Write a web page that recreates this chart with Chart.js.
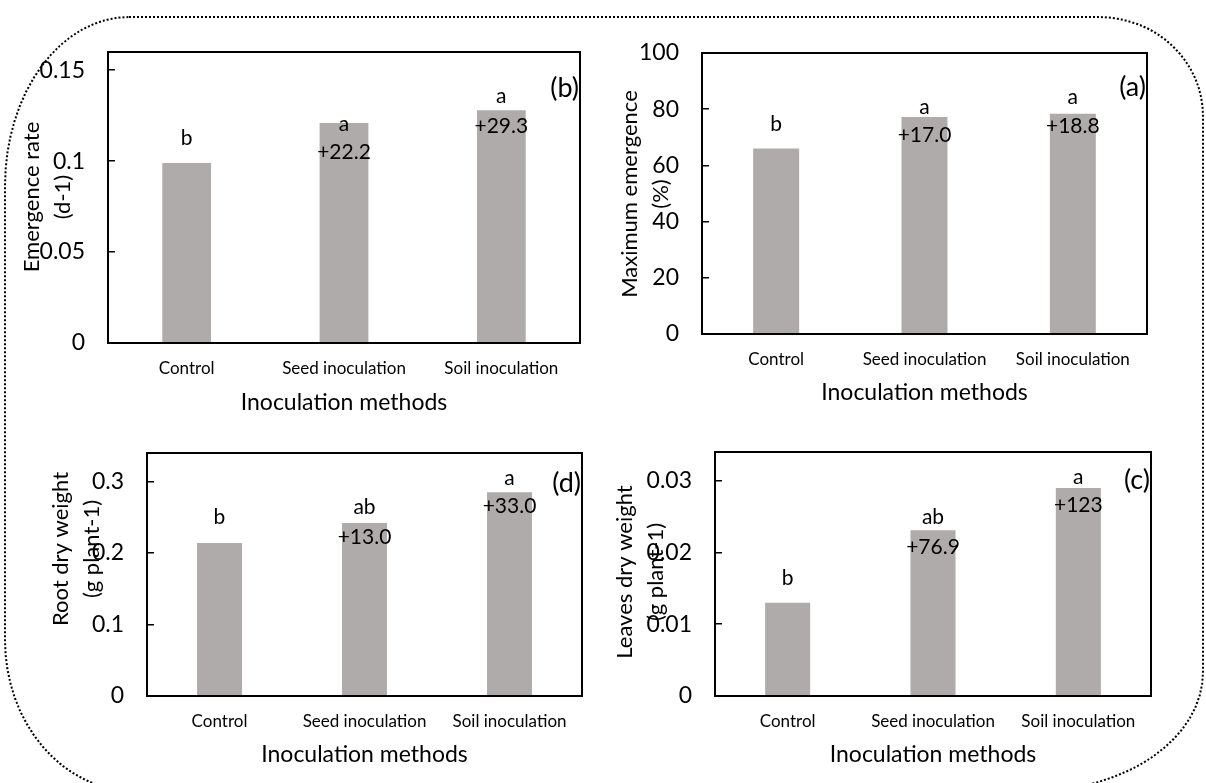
<!DOCTYPE html>
<html>
<head>
<meta charset="utf-8">
<script src="https://cdn.jsdelivr.net/npm/chart.js@4.4.0/dist/chart.umd.min.js"></script>
<style>
    html, body { margin: 0; padding: 0; background: #fff; }
    body { width: 1206px; height: 783px; position: relative; overflow: hidden; }
    .frame {
        position: absolute; left: 4px; top: 16px; width: 1200px; height: 776px;
        box-sizing: border-box; border: 2px dotted #000;
        border-radius: 125px 105px 170px 130px / 170px 100px 120px 152px;
    }
    canvas { position: absolute; }
</style>
</head>
<body>
<div class="frame"></div>
<script>
// ===== DATA =====
const categories = ['Control', 'Seed inoculation', 'Soil inoculation'];

const emergenceRate = [0.099, 0.121, 0.128];
const emergenceRateLetters = ['b', 'a', 'a'];
const emergenceRateChange = ['', '+22.2', '+29.3'];
const emergenceRateTicks = [0, 0.05, 0.1, 0.15];

const maxEmergence = [66, 77.2, 78.4];
const maxEmergenceLetters = ['b', 'a', 'a'];
const maxEmergenceChange = ['', '+17.0', '+18.8'];
const maxEmergenceTicks = [0, 20, 40, 60, 80, 100];

const rootDryWeight = [0.214, 0.242, 0.285];
const rootDryWeightLetters = ['b', 'ab', 'a'];
const rootDryWeightChange = ['', '+13.0', '+33.0'];
const rootDryWeightTicks = [0, 0.1, 0.2, 0.3];

const leavesDryWeight = [0.013, 0.0231, 0.029];
const leavesDryWeightLetters = ['b', 'ab', 'a'];
const leavesDryWeightChange = ['', '+76.9', '+123'];
const leavesDryWeightTicks = [0, 0.01, 0.02, 0.03];

// ===== STYLE =====
const barColor = '#afabab';
const fontFamily = "Lato, 'Open Sans', sans-serif";
const xTitleLH = 27;
const yTitleGap = 31;

// canvas: [x, y, w, h], box: plot frame [left, top, right, bottom] in page px
const panels = [
    {
        values: emergenceRate, letters: emergenceRateLetters, changes: emergenceRateChange,
        ticks: emergenceRateTicks, yMax: 0.16, yTitle: ['Emergence rate', '(d-1)'], tag: '(b)',
        canvas: [0, 0, 603, 420], box: [108, 52, 580, 343], yTitleX: 32, yTitleY: 197, xTitleY: 403,
        letterOffset: [-25, 1, -14], changeOffset: [0, 29, 16], tagY: 36
    },
    {
        values: maxEmergence, letters: maxEmergenceLetters, changes: maxEmergenceChange,
        ticks: maxEmergenceTicks, yMax: 100, yTitle: ['Maximum emergence', '(%)'], tag: '(a)',
        canvas: [603, 0, 603, 420], box: [702, 53, 1147, 334], yTitleX: 630, yTitleY: 194, xTitleY: 393,
        letterOffset: [-24, -10, -16], changeOffset: [0, 18, 13], tagY: 34
    },
    {
        values: rootDryWeight, letters: rootDryWeightLetters, changes: rootDryWeightChange,
        ticks: rootDryWeightTicks, yMax: 0.34, yTitle: ['Root dry weight', '(g plant-1)'], tag: '(d)',
        canvas: [0, 420, 603, 363], box: [147, 453, 582, 696], yTitleX: 61, yTitleY: 549, xTitleY: 755,
        letterOffset: [-26, -16, -14], changeOffset: [0, 14, 14], tagY: 30
    },
    {
        values: leavesDryWeight, letters: leavesDryWeightLetters, changes: leavesDryWeightChange,
        ticks: leavesDryWeightTicks, yMax: 0.034, yTitle: ['Leaves dry weight', '(g plant-1)'], tag: '(c)',
        canvas: [603, 420, 603, 363], box: [715, 452, 1151, 696], yTitleX: 625, yTitleY: 572, xTitleY: 755,
        letterOffset: [-24, -13, -11], changeOffset: [0, 17, 17], tagY: 28
    }
];

// Plot frame around the chart area
const framePlugin = {
    id: 'frame',
    afterDraw(chart) {
        const { ctx, chartArea: a } = chart;
        ctx.save();
        ctx.strokeStyle = '#000';
        ctx.lineWidth = 2;
        ctx.strokeRect(a.left, a.top, a.right - a.left, a.bottom - a.top);
        ctx.restore();
    }
};

// Significance letters, % change, panel tag and two-line y title
function makeTextPlugin(p) {
    return {
        id: 'barText',
        afterDatasetsDraw(chart) {
            const { ctx, chartArea: a } = chart;
            const [cx, cy] = p.canvas;
            const bars = chart.getDatasetMeta(0).data;
            ctx.save();
            ctx.fillStyle = '#000';
            ctx.font = `21px ${fontFamily}`;
            ctx.textAlign = 'center';
            ctx.textBaseline = 'middle';
            bars.forEach((bar, i) => {
                ctx.fillText(p.letters[i], bar.x, bar.y + p.letterOffset[i]);
                if (p.changes[i]) ctx.fillText(p.changes[i], bar.x, bar.y + p.changeOffset[i]);
            });

            ctx.font = `27px ${fontFamily}`;
            ctx.textAlign = 'right';
            ctx.fillText(p.tag, a.right - 1, a.top + p.tagY);

            ctx.font = `22px ${fontFamily}`;
            ctx.textAlign = 'center';
            p.yTitle.forEach((line, i) => {
                ctx.save();
                ctx.translate(p.yTitleX - cx + i * yTitleGap, p.yTitleY - cy);
                ctx.rotate(-Math.PI / 2);
                ctx.fillText(line, 0, 0);
                ctx.restore();
            });
            ctx.restore();
        }
    };
}

function fmt(v) {
    return String(+v.toFixed(4));
}

function makeChart(p) {
    const [cx, cy, cw, ch] = p.canvas;
    const [bl, bt, br, bb] = p.box;
    const el = document.createElement('canvas');
    el.width = cw;
    el.height = ch;
    el.style.left = cx + 'px';
    el.style.top = cy + 'px';
    document.body.appendChild(el);

    const padBottom = cy + ch - (p.xTitleY + xTitleLH / 2);

    return new Chart(el, {
        type: 'bar',
        data: {
            labels: categories,
            datasets: [{
                data: p.values,
                backgroundColor: barColor,
                borderWidth: 0,
                categoryPercentage: 1,
                barPercentage: 0.31
            }]
        },
        options: {
            responsive: false,
            animation: false,
            devicePixelRatio: 1,
            layout: {
                padding: { left: 0, top: bt - cy, right: cx + cw - br, bottom: padBottom }
            },
            plugins: {
                legend: { display: false },
                tooltip: { enabled: false }
            },
            scales: {
                x: {
                    grid: { display: false, drawTicks: false },
                    border: { display: false },
                    ticks: { padding: 15, color: '#000', font: { family: fontFamily, size: 17 } },
                    title: {
                        display: true, text: 'Inoculation methods', color: '#000', padding: 0,
                        font: { family: fontFamily, size: 23, lineHeight: xTitleLH + 'px' }
                    },
                    afterFit: (s) => {
                        s.height = p.xTitleY + xTitleLH / 2 - bb;
                        s.paddingLeft = 0;
                        s.paddingRight = 0;
                    }
                },
                y: {
                    min: 0,
                    max: p.yMax,
                    afterBuildTicks: (s) => { s.ticks = p.ticks.map(v => ({ value: v })); },
                    grid: { drawOnChartArea: false, drawTicks: true, tickLength: -7, color: '#000', lineWidth: 1.5 },
                    border: { display: false },
                    ticks: {
                        padding: 30, color: '#000', font: { family: fontFamily, size: 23 },
                        callback: (v) => fmt(v)
                    },
                    afterFit: (s) => {
                        s.width = bl - cx;
                        // keep tick padding from pushing the plot top down
                        s.paddingTop = 0;
                        s.paddingBottom = 0;
                    }
                }
            }
        },
        plugins: [framePlugin, makeTextPlugin(p)]
    });
}

panels.forEach(makeChart);
</script>
</body>
</html>
